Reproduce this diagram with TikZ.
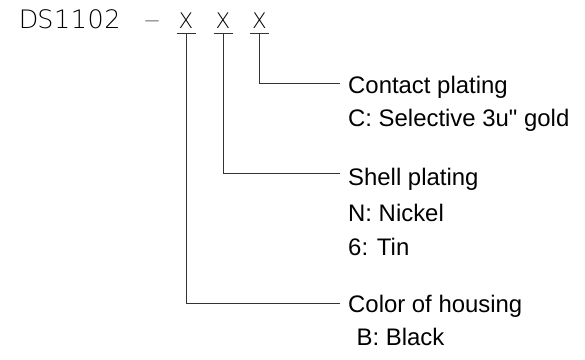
\documentclass[tikz,border=0pt]{standalone}
\usepackage{fontspec}
\newfontfamily\lbfont{Liberation Sans}
\IfFontExistsTF{DejaVu Sans ExtraLight}
  {\newfontfamily\cadfont{DejaVu Sans ExtraLight}}
  {\newfontfamily\cadfont{DejaVu Sans}}
\newcommand\mchar[1]{\makebox[16.8bp][c]{#1}}
\begin{document}
\begin{tikzpicture}[x=1bp,y=-1bp,
  lbl/.style={anchor=base west, inner sep=0pt, text=black,
    font=\lbfont\fontsize{24}{28}\selectfont},
  codetxt/.style={anchor=base west, inner sep=0pt, text=black,
    font=\cadfont\fontsize{25.5}{30}\selectfont},
  xch/.style={anchor=base, inner sep=0pt, text=black,
    font=\cadfont\fontsize{21.5}{25}\selectfont},
  lead/.style={draw=black!80, line width=0.9bp}]
\useasboundingbox (0,0) rectangle (585,359);

% part number
\node[codetxt] (code) at (20,28) {\mchar{D}\mchar{S}\mchar{1}\mchar{1}\mchar{0}\mchar{2}};
\node[xch, font=\cadfont\fontsize{15}{18}\selectfont] (dash) at (152,25.5) {—};
\node[xch] (x1) at (186,28.3) {X};
\node[xch] (x2) at (223,28.3) {X};
\node[xch] (x3) at (259.5,28.3) {X};

% labels
\node[lbl] (l3a) at (348,93.3) {Contact plating};
\node[lbl] (l3b) at (348,126.7) {C: Selective 3u" gold};
\node[lbl] (l2a) at (348,185) {Shell plating};
\node[lbl] (l2b) at (348,221) {N: Nickel};
\node[lbl] (l2c) at (348,255) {6: Tin};
\node[lbl] (l1a) at (348,312.3) {Color of housing};
\node[lbl] (l1b) at (356.5,345) {B: Black};

% bars under X
\foreach \n in {x1,x2,x3}
  \draw[lead] ([shift={(-9.5,5)}]\n.south) -- ([shift={(9.5,5)}]\n.south);

% leaders
\draw[lead] ([shift={(0,5)}]x3.south) |- ([shift={(-8,-10)}]l3a.base west);
\draw[lead] ([shift={(0,5)}]x2.south) |- ([shift={(-8,-11.5)}]l2a.base west);
\draw[lead] ([shift={(0,5)}]x1.south) |- ([shift={(-8,-9)}]l1a.base west);
\end{tikzpicture}
\end{document}
